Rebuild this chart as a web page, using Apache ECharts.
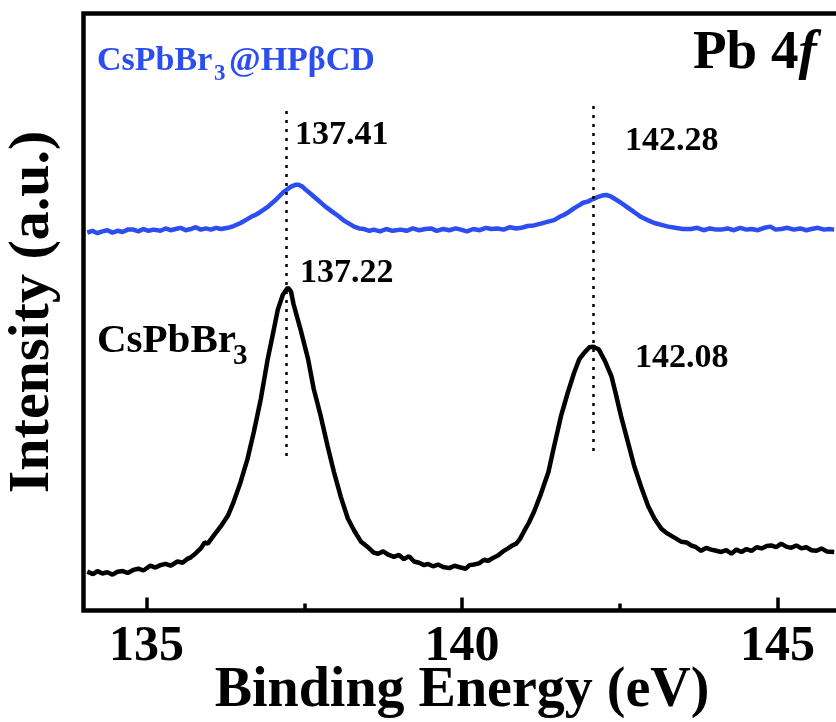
<!DOCTYPE html>
<html>
<head>
<meta charset="utf-8">
<script src="https://cdn.jsdelivr.net/npm/echarts@6/dist/echarts.min.js"></script>
<style>
html,body{margin:0;padding:0;background:#fff;}
#chart{width:836px;height:722px;}
</style>
</head>
<body>
<div id="chart"></div>
<script>
// ---- Data ----
const energyBlack = [134.06,134.15,134.22,134.30,134.38,134.46,134.54,134.62,134.70,134.79,134.87,134.95,135.06,135.14,135.22,135.30,135.38,135.49,135.57,135.64,135.70,135.78,135.86,135.92,135.97,136.06,136.17,136.29,136.38,136.49,136.60,136.70,136.81,136.92,137.00,137.08,137.16,137.24,137.29,137.33,137.44,137.56,137.65,137.76,137.87,137.97,138.08,138.19,138.29,138.40,138.46,138.52,138.60,138.67,138.75,138.84,138.92,139.00,139.08,139.16,139.24,139.32,139.40,139.46,139.54,139.62,139.70,139.80,139.88,139.98,140.06,140.12,140.19,140.27,140.35,140.41,140.49,140.57,140.65,140.73,140.80,140.86,140.92,140.98,141.06,141.14,141.25,141.37,141.46,141.57,141.68,141.78,141.86,141.94,142.02,142.08,142.17,142.27,142.37,142.44,142.52,142.63,142.73,142.84,142.95,143.05,143.16,143.24,143.32,143.40,143.48,143.56,143.63,143.71,143.79,143.87,143.95,144.03,144.11,144.19,144.27,144.35,144.43,144.51,144.59,144.67,144.75,144.83,144.90,144.98,145.06,145.14,145.22,145.30,145.38,145.46,145.54,145.62,145.70,145.78,145.90];
const intensityBlack = [6.5,6.1,6.6,6.2,6.4,6.0,6.5,6.6,6.3,6.8,7.0,6.7,7.5,7.2,7.6,7.8,7.5,8.2,8.0,8.6,8.9,9.6,10.4,11.4,11.2,12.5,14.0,15.9,18.2,21.5,25.4,29.9,35.4,42.1,46.2,50.4,52.9,54.1,53.4,51.3,47.1,42.1,37.1,32.6,27.5,23.2,19.0,15.4,13.4,11.5,11.0,10.5,9.7,9.5,9.9,9.3,9.0,9.3,8.6,9.1,8.2,8.0,7.6,7.8,7.4,7.7,7.3,7.1,7.5,7.2,7.0,7.6,7.7,7.9,8.5,8.3,8.8,9.2,9.9,10.4,10.9,11.2,12.0,13.2,14.7,16.5,19.5,23.2,27.5,32.6,36.6,39.9,42.1,43.2,44.1,44.2,43.7,41.7,39.2,36.2,32.6,28.2,24.2,20.7,17.5,15.4,13.7,13.0,12.5,12.0,11.5,11.4,10.9,10.6,10.0,10.5,10.2,10.0,9.8,10.1,9.5,10.2,9.8,10.3,10.0,10.6,10.4,10.8,10.9,10.6,11.2,10.7,10.5,10.9,10.4,10.6,10.1,10.0,10.4,9.9,9.8];

const energyBlue = [134.06,134.14,134.22,134.30,134.38,134.46,134.54,134.62,134.70,134.79,134.87,134.95,135.03,135.11,135.22,135.30,135.38,135.46,135.54,135.62,135.70,135.78,135.86,135.94,136.02,136.10,136.18,136.29,136.38,136.49,136.57,136.65,136.73,136.81,136.92,137.05,137.17,137.29,137.36,137.41,137.47,137.52,137.60,137.71,137.84,137.97,138.05,138.13,138.21,138.29,138.37,138.45,138.53,138.60,138.70,138.80,138.90,139.03,139.12,139.22,139.32,139.42,139.51,139.60,139.70,139.80,139.90,139.98,140.08,140.18,140.28,140.38,140.46,140.56,140.66,140.76,140.86,140.94,141.04,141.14,141.25,141.35,141.46,141.54,141.62,141.70,141.78,141.86,141.92,142.00,142.05,142.10,142.16,142.22,142.29,142.35,142.40,142.46,142.52,142.60,142.68,142.76,142.84,142.94,143.05,143.16,143.27,143.38,143.50,143.63,143.73,143.83,143.93,144.03,144.11,144.21,144.31,144.41,144.51,144.59,144.69,144.79,144.89,144.97,145.06,145.16,145.26,145.36,145.46,145.54,145.64,145.74,145.82,145.90];
const intensityBlue = [63.3,63.6,63.2,63.5,63.7,63.3,63.6,63.4,63.8,63.8,63.5,63.9,63.6,63.8,63.6,64.0,63.7,63.9,64.1,63.7,63.9,64.2,63.8,64.0,63.8,64.1,63.9,64.1,64.4,64.9,65.4,65.9,66.3,66.8,67.6,68.8,70.1,71.0,71.3,71.3,71.0,70.5,69.8,68.8,67.6,66.6,66.0,65.3,64.8,64.3,64.0,63.9,63.6,63.8,63.5,63.9,63.6,63.8,63.6,64.0,63.7,63.9,64.0,63.6,63.9,63.7,64.0,63.8,63.5,63.9,63.7,64.1,63.9,64.0,63.8,64.2,64.0,64.1,64.4,64.5,64.8,65.1,65.4,65.9,66.3,66.8,67.4,67.9,68.3,68.5,68.8,69.0,69.3,69.5,69.6,69.4,69.1,68.7,68.3,67.7,67.1,66.5,65.9,65.4,64.9,64.6,64.3,64.1,63.9,63.9,64.1,63.7,64.0,63.8,63.8,64.0,63.7,64.1,63.8,63.9,63.7,64.1,64.3,63.8,63.9,64.1,63.8,64.0,63.7,63.9,64.1,63.8,63.9,63.8];

const seriesNames = ['CsPbBr3', 'CsPbBr3@HPβCD'];
const xTickLabels = [135, 140, 145];
const xMinorTicks = [137.5, 142.5];
const dropLineX = [137.22, 142.08];
const dropLineTop = [84.3, 85.5];
const dropLineBottom = [25.9, 26.7];
const peakLabels = ['137.41', '137.22', '142.28', '142.08'];

const FONT = "'Liberation Serif', 'Times New Roman', serif";
const BLUE = '#2c4ef0';

function pairs(xs, ys) { return xs.map((x, i) => [x, ys[i]]); }

const chart = echarts.init(document.getElementById('chart'), null, {renderer: 'canvas'});

const txt = (text, x, y, size, color) => ({
  type: 'text', x: x, y: y, silent: true,
  style: {text: text, x: 0, y: 0, fill: color || '#000',
    font: 'bold ' + size + 'px ' + FONT, verticalAlign: 'middle', align: 'left'}
});

const option = {
  animation: false,
  backgroundColor: '#fff',
  grid: {left: 83.5, top: 13.5, width: 757, height: 597, show: true,
         borderColor: '#000', borderWidth: 4.5, backgroundColor: 'transparent',
         containLabel: false, outerBoundsMode: 'none'},
  xAxis: [{
    type: 'value', min: 134, max: 146, position: 'bottom',
    name: 'Binding Energy (eV)', nameLocation: 'middle', nameGap: 53, nameMoveOverlap: false,
    nameTextStyle: {fontFamily: FONT, fontWeight: 'bold', fontSize: 56, color: '#000'},
    axisLine: {show: false},
    axisTick: {show: true, inside: true, length: 13, lineStyle: {color: '#000', width: 3.5}, customValues: xTickLabels},
    axisLabel: {show: true, customValues: xTickLabels, margin: 12,
      fontFamily: FONT, fontWeight: 'bold', fontSize: 50, color: '#000'},
    splitLine: {show: false}
  }, {
    type: 'value', min: 134, max: 146, position: 'bottom', offset: 0,
    axisLine: {show: false},
    axisTick: {show: true, inside: true, length: 7, lineStyle: {color: '#000', width: 3.5}, customValues: xMinorTicks},
    axisLabel: {show: false},
    splitLine: {show: false}
  }],
  yAxis: {
    type: 'value', min: 0, max: 100,
    name: 'Intensity (a.u.)', nameLocation: 'middle', nameGap: 21, nameRotate: 90, nameMoveOverlap: false,
    nameTextStyle: {fontFamily: FONT, fontWeight: 'bold', fontSize: 58, color: '#000'},
    axisLine: {show: false}, axisTick: {show: false}, axisLabel: {show: false}, splitLine: {show: false}
  },
  series: [{
    name: seriesNames[0], type: 'line', xAxisIndex: 0, showSymbol: false, symbol: 'none',
    data: pairs(energyBlack, intensityBlack),
    lineStyle: {color: '#000', width: 4.5}, z: 3,
    markLine: {
      silent: true, symbol: 'none', animation: false,
      label: {show: false},
      lineStyle: {color: '#000', width: 2.5, type: [3, 6]},
      data: dropLineX.map((x, i) => [{coord: [x, dropLineBottom[i]]}, {coord: [x, dropLineTop[i]]}])
    }
  }, {
    name: seriesNames[1], type: 'line', xAxisIndex: 0, showSymbol: false, symbol: 'none',
    data: pairs(energyBlue, intensityBlue),
    lineStyle: {color: BLUE, width: 4.5}, z: 4
  }],
  graphic: [
    txt('CsPbBr', 97, 61, 34, BLUE),
    txt('3', 214, 74, 23, BLUE),
    txt('@HPβCD', 229, 61, 34, BLUE),
    txt('CsPbBr', 97, 341, 41, '#000'),
    txt('3', 233, 357, 29, '#000'),
    txt(peakLabels[0], 295, 135, 34, '#000'),
    txt(peakLabels[1], 300, 273, 34, '#000'),
    txt(peakLabels[2], 625, 141, 34, '#000'),
    txt(peakLabels[3], 635, 358, 34, '#000'),
    {type: 'text', x: 693, y: 54, silent: true,
     style: {text: '{a|Pb 4}{b|f}', verticalAlign: 'middle', align: 'left',
       rich: {a: {font: 'bold 55px ' + FONT, fill: '#000'}, b: {font: 'italic bold 55px ' + FONT, fill: '#000'}}}}
  ]
};
chart.setOption(option);
</script>
</body>
</html>
